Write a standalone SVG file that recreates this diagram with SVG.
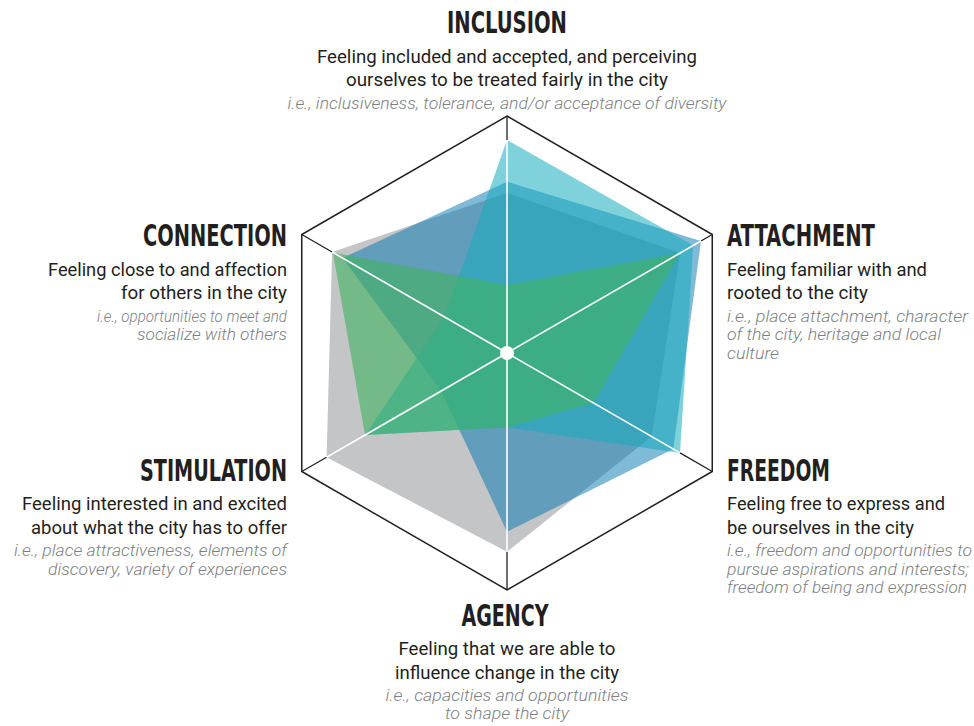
<svg xmlns="http://www.w3.org/2000/svg" width="974" height="726" viewBox="0 0 974 726">
<style>
.t{font-family:"Liberation Sans Narrow","DejaVu Sans Condensed","Liberation Sans",sans-serif;font-weight:bold;font-size:30px;fill:#231f20}
.b{font-family:Roboto,"Liberation Sans",sans-serif;font-size:18px;fill:#231f20}
.i{font-family:Roboto,"Liberation Sans",sans-serif;font-style:italic;font-weight:300;font-size:17px;fill:#7d7f82}
.hex{fill:none;stroke:#231f20;stroke-width:1.5}
.sk{stroke:#231f20;stroke-width:1.3}
.sw{stroke:#fff;stroke-width:1.6}
.m{text-anchor:middle}
.e{text-anchor:end}
</style>
<rect width="974" height="726" fill="#fff"/>
<g id="frame">
<polygon class="hex" points="507,116 712.25,234.5 712.25,471.5 507,590 301.75,471.5 301.75,234.5"/>
</g>
<g id="series">
<polygon id="gray" fill="#c4c5c7" points="507,193 680.2,253 651.6,436.5 507,551.7 326.6,457.2 332.1,252"/>
<polygon id="blue" fill="#0075b0" fill-opacity="0.5" points="507,181.7 701,241 673.3,449 507,531.7 441.2,391 342.5,258"/>
<polygon id="teal" fill="#16abbf" fill-opacity="0.55" points="507,140 693.2,245.5 680,452.9 507,427.3 365,435 444.6,317"/>
<polygon id="green" fill="#40b25e" fill-opacity="0.6" points="507,285 680.2,253 593.6,403 507,427.3 365,435 332.9,252.5"/>
</g>
<g id="connectors">
<line class="sk" x1="507" y1="140" x2="507" y2="116"/>
<line class="sk" x1="701" y1="241" x2="712.25" y2="234.5"/>
<line class="sk" x1="680" y1="452.9" x2="712.25" y2="471.5"/>
<line class="sk" x1="507" y1="551.7" x2="507" y2="590"/>
<line class="sk" x1="326.6" y1="457.2" x2="301.75" y2="471.5"/>
<line class="sk" x1="332.1" y1="252" x2="301.75" y2="234.5"/>
<line class="sw" x1="507" y1="353" x2="507" y2="140"/>
<line class="sw" x1="507" y1="353" x2="701" y2="241"/>
<line class="sw" x1="507" y1="353" x2="680" y2="452.9"/>
<line class="sw" x1="507" y1="353" x2="507" y2="551.7"/>
<line class="sw" x1="507" y1="353" x2="326.6" y2="457.2"/>
<line class="sw" x1="507" y1="353" x2="332.1" y2="252"/>
<circle cx="507" cy="353" r="7" fill="#fff"/>
</g>
<g id="inclusion">
<text class="t m" x="507" y="33" textLength="120" lengthAdjust="spacingAndGlyphs">INCLUSION</text>
<text class="b m" x="507" y="62.5" textLength="380" lengthAdjust="spacingAndGlyphs">Feeling included and accepted, and perceiving</text>
<text class="b m" x="507" y="86" textLength="322" lengthAdjust="spacingAndGlyphs">ourselves to be treated fairly in the city</text>
<text class="i m" x="507" y="108.5" textLength="439" lengthAdjust="spacingAndGlyphs">i.e., inclusiveness, tolerance, and/or acceptance of diversity</text>
</g>
<g id="connection">
<text class="t e" x="287" y="246" textLength="144" lengthAdjust="spacingAndGlyphs">CONNECTION</text>
<text class="b e" x="287" y="275.5" textLength="239" lengthAdjust="spacingAndGlyphs">Feeling close to and affection</text>
<text class="b e" x="287" y="299" textLength="166" lengthAdjust="spacingAndGlyphs">for others in the city</text>
<text class="i e" x="287" y="321.5" textLength="190" lengthAdjust="spacingAndGlyphs">i.e., opportunities to meet and</text>
<text class="i e" x="287" y="340" textLength="150" lengthAdjust="spacingAndGlyphs">socialize with others</text>
</g>
<g id="attachment">
<text class="t" x="727" y="246" textLength="148" lengthAdjust="spacingAndGlyphs">ATTACHMENT</text>
<text class="b" x="727" y="275.5" textLength="200" lengthAdjust="spacingAndGlyphs">Feeling familiar with and</text>
<text class="b" x="727" y="299" textLength="141" lengthAdjust="spacingAndGlyphs">rooted to the city</text>
<text class="i" x="727" y="321.5" textLength="241" lengthAdjust="spacingAndGlyphs">i.e., place attachment, character</text>
<text class="i" x="727" y="340" textLength="214" lengthAdjust="spacingAndGlyphs">of the city, heritage and local</text>
<text class="i" x="727" y="358.5" textLength="52" lengthAdjust="spacingAndGlyphs">culture</text>
</g>
<g id="stimulation">
<text class="t e" x="287" y="481" textLength="147" lengthAdjust="spacingAndGlyphs">STIMULATION</text>
<text class="b e" x="287" y="510" textLength="265" lengthAdjust="spacingAndGlyphs">Feeling interested in and excited</text>
<text class="b e" x="287" y="533.5" textLength="256" lengthAdjust="spacingAndGlyphs">about what the city has to offer</text>
<text class="i e" x="287" y="556" textLength="273" lengthAdjust="spacingAndGlyphs">i.e., place attractiveness, elements of</text>
<text class="i e" x="287" y="574.5" textLength="239" lengthAdjust="spacingAndGlyphs">discovery, variety of experiences</text>
</g>
<g id="freedom">
<text class="t" x="727" y="481" textLength="103" lengthAdjust="spacingAndGlyphs">FREEDOM</text>
<text class="b" x="727" y="510" textLength="218" lengthAdjust="spacingAndGlyphs">Feeling free to express and</text>
<text class="b" x="727" y="533.5" textLength="187" lengthAdjust="spacingAndGlyphs">be ourselves in the city</text>
<text class="i" x="727" y="556" textLength="245" lengthAdjust="spacingAndGlyphs">i.e., freedom and opportunities to</text>
<text class="i" x="727" y="574.5" textLength="242" lengthAdjust="spacingAndGlyphs">pursue aspirations and interests;</text>
<text class="i" x="727" y="593" textLength="240" lengthAdjust="spacingAndGlyphs">freedom of being and expression</text>
</g>
<g id="agency">
<text class="t m" x="505" y="626" textLength="87" lengthAdjust="spacingAndGlyphs">AGENCY</text>
<text class="b m" x="507" y="655" textLength="217" lengthAdjust="spacingAndGlyphs">Feeling that we are able to</text>
<text class="b m" x="507" y="678.5" textLength="224" lengthAdjust="spacingAndGlyphs">influence change in the city</text>
<text class="i m" x="507" y="700.5" textLength="243" lengthAdjust="spacingAndGlyphs">i.e., capacities and opportunities</text>
<text class="i m" x="507" y="719" textLength="124" lengthAdjust="spacingAndGlyphs">to shape the city</text>
</g>
</svg>
